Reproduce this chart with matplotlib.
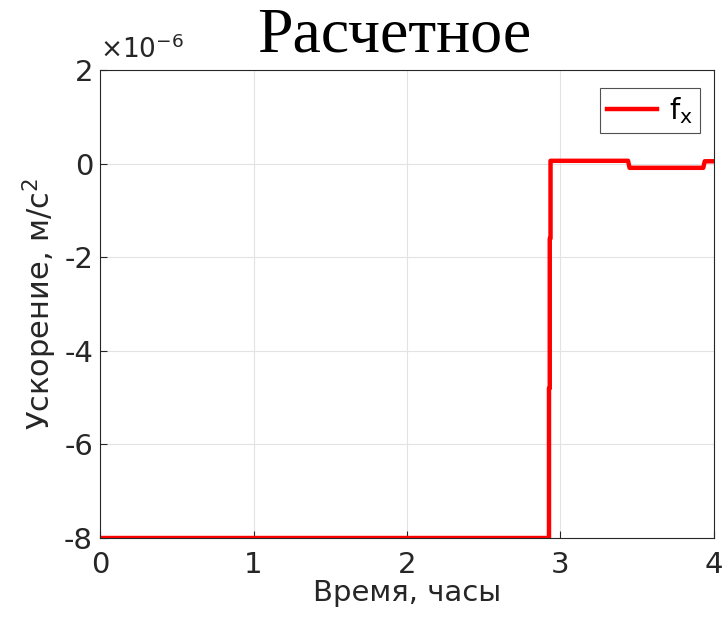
import numpy as np
import matplotlib.pyplot as plt

# data (hours, acceleration in 1e-6 m/s^2)
time_h = [0.0, 2.925, 2.925, 2.93, 2.93, 2.935, 2.935, 3.44, 3.45, 3.93, 3.94, 4.0]
fx = [-8.0, -8.0, -4.8, -4.8, -1.6, -1.6, 0.06, 0.06, -0.09, -0.09, 0.05, 0.05]

xticks = [0, 1, 2, 3, 4]
yticks = [-8, -6, -4, -2, 0, 2]

txt = "#262626"

fig = plt.figure(figsize=(7.27, 6.24), dpi=100)
ax = fig.add_axes([0.1376, 0.1378, 0.8445, 0.75])

ax.plot(time_h, fx, color="red", lw=3.2, label=r"f$_\mathregular{x}$")

ax.set_xlim(0, 4)
ax.set_ylim(-8, 2)
ax.set_xticks(xticks)
ax.set_yticks(yticks)
ax.set_xticklabels([str(t) for t in xticks])
ax.set_yticklabels([str(t) for t in yticks])
ax.tick_params(direction="in", length=5, labelsize=21, colors=txt, pad=5)
ax.tick_params(axis="x", pad=9)
ax.grid(True, color="#e3e3e3", lw=0.8)
ax.set_axisbelow(True)
for s in ax.spines.values():
    s.set_color(txt)
    s.set_linewidth(0.8)

ax.set_xlabel("Время, часы", fontsize=21, color=txt, labelpad=0)
ax.set_ylabel("Ускорение, м/с$^\mathregular{2}$", fontsize=22, color=txt, labelpad=4)

# MATLAB-like exponent label
ax.text(0.0, 1.012, r"$\times$10$^{\mathregular{-6}}$", transform=ax.transAxes,
        fontsize=19, color=txt, ha="left", va="bottom")

fig.text(0.542, 0.988, "Расчетное", family="Liberation Serif", fontsize=46,
         ha="center", va="top", color="black")

leg = ax.legend(loc="upper right", fontsize=21, frameon=True, fancybox=False,
                handlelength=1.7, borderpad=0.25, handletextpad=0.4,
                borderaxespad=0, bbox_to_anchor=(0.977, 0.962))
leg.get_frame().set_edgecolor(txt)
leg.get_frame().set_linewidth(0.8)

plt.savefig("out.png", dpi=100)
